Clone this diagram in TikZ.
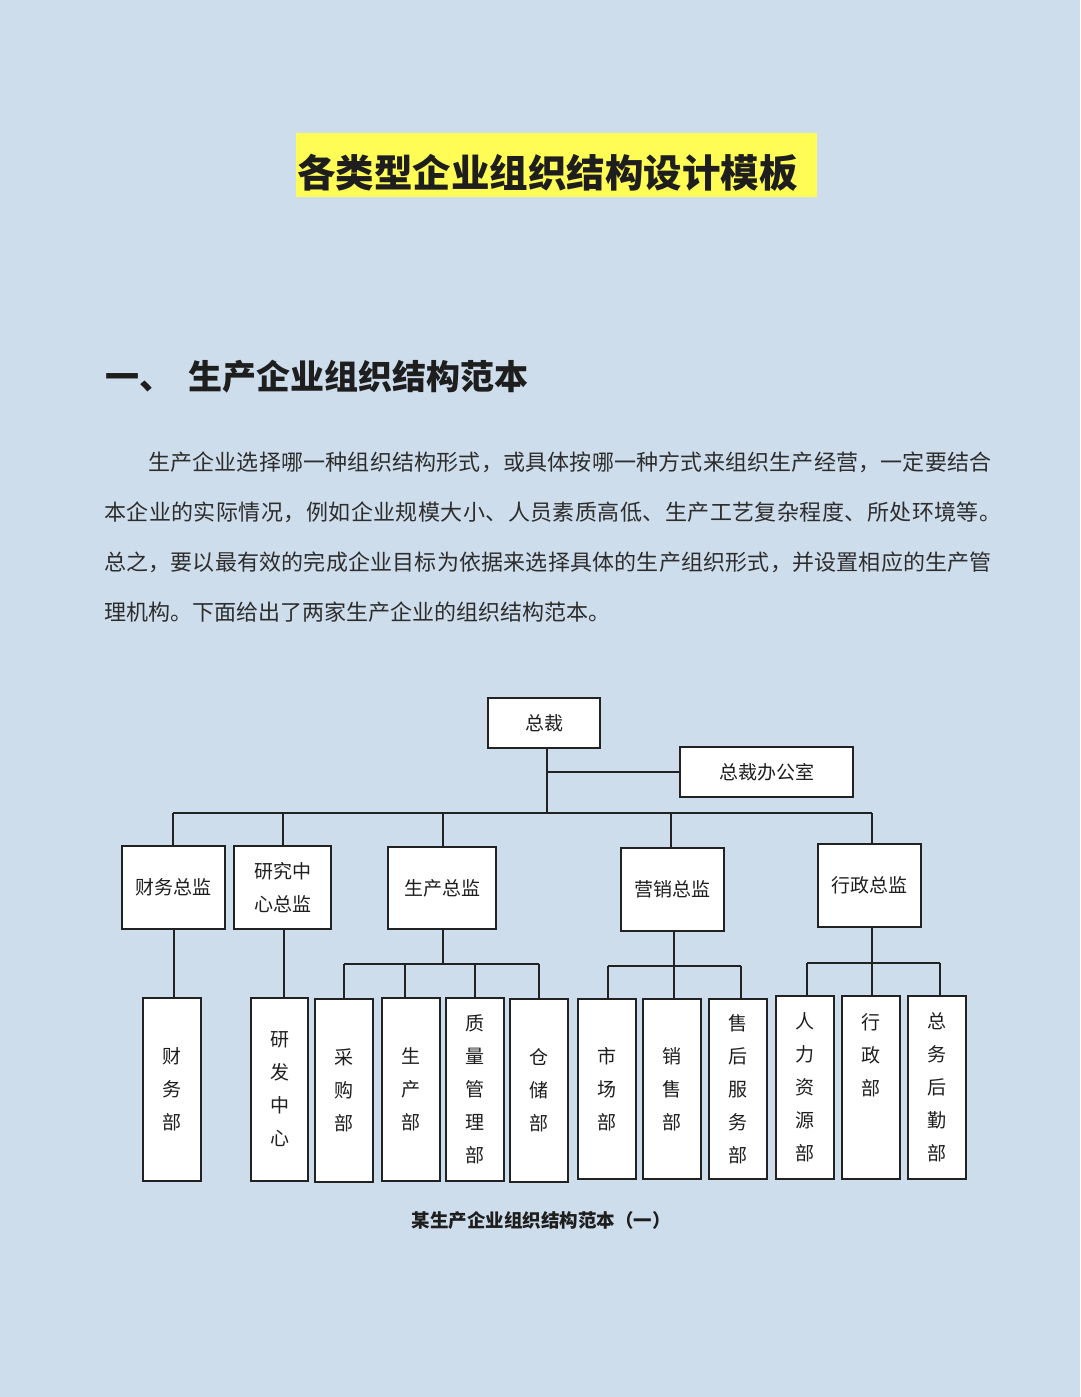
\documentclass[tikz,border=0pt]{standalone}
\usepackage{fontspec}
\setmainfont{Noto Sans CJK SC}
\definecolor{bgc}{RGB}{206,221,235}
\definecolor{titlebg}{RGB}{255,253,85}
\definecolor{linec}{RGB}{34,34,34}
\definecolor{textc}{RGB}{30,30,30}
\definecolor{parac}{RGB}{45,45,45}
\begin{document}
\begin{tikzpicture}[x=1pt,y=-1pt,
  chart/.style={draw=linec, line width=1.8pt, fill=white, inner sep=0pt, text=textc,
    font=\fontsize{19}{33}\selectfont, align=center},
  topbox/.style={chart, minimum height=50pt},
  midbox/.style={chart, minimum height=83pt},
  deptbox/.style={chart, minimum width=58pt, minimum height=183pt},
  conn/.style={draw=linec, line width=1.8pt},
  para/.style={anchor=west, inner sep=0pt, text=parac, font=\fontsize{22}{22}\selectfont}
]
\fill[bgc] (0,0) rectangle (1080,1397);
\useasboundingbox (0,0) rectangle (1080,1397);

% title
\fill[titlebg] (296,133) rectangle (817,197);
\node[anchor=west, inner sep=0pt, text=textc, font=\fontsize{38.5}{38.5}\selectfont\bfseries] (title) at (297,173) {各类型企业组织结构设计模板};

% heading
\node[anchor=west, inner sep=0pt, text=textc, font=\fontsize{34}{34}\selectfont\bfseries] (head) at (105,377) {一、\hspace{15pt}生产企业组织结构范本};

% paragraph
\node[para] (p1) at (148,462) {\addfontfeatures{LetterSpace=0.9}生产企业选择哪一种组织结构形式，或具体按哪一种方式来组织生产经营，一定要结合};
\node[para] (p2) at (104,512) {\addfontfeatures{LetterSpace=2.0}本企业的实际情况，例如企业规模大小、人员素质高低、生产工艺复杂程度、所处环境等。};
\node[para] (p3) at (104,562) {\addfontfeatures{LetterSpace=0.9}总之，要以最有效的完成企业目标为依据来选择具体的生产组织形式，并设置相应的生产管};
\node[para] (p4) at (104,612) {理机构。下面给出了两家生产企业的组织结构范本。};

% chart boxes
\node[topbox, minimum width=112pt] (pres) at (544,723) {总裁};
\node[topbox, minimum width=173pt] (office) at (766.5,772) {总裁办公室};

\node[midbox, minimum width=103pt] (cfo) at (173.5,887.5) {财务总监};
\node[midbox, minimum width=97pt] (rnd) at (282.5,887.5) {研究中\\心总监};
\node[midbox, minimum width=108pt, minimum height=82pt] (prod) at (442,888) {生产总监};
\node[midbox, minimum width=103pt] (mkt) at (672.5,889.5) {营销总监};
\node[midbox, minimum width=103pt] (adm) at (869.5,885.5) {行政总监};

\node[deptbox] (d1) at (172,1089.5) {财\\务\\部};
\node[deptbox, minimum width=57pt] (d2) at (279.5,1089.5) {研\\发\\中\\心};
\node[deptbox] (d3) at (344,1090.5) {采\\购\\部};
\node[deptbox] (d4) at (411,1089.5) {生\\产\\部};
\node[deptbox] (d5) at (475,1089.5) {质\\量\\管\\理\\部};
\node[deptbox] (d6) at (539,1090.5) {仓\\储\\部};
\node[deptbox, minimum height=180pt] (d7) at (607,1089) {市\\场\\部};
\node[deptbox, minimum height=180pt] (d8) at (672,1089) {销\\售\\部};
\node[deptbox, minimum height=180pt] (d9) at (738,1089) {售\\后\\服\\务\\部};
\node[deptbox] (d10) at (805,1087.5) {人\\力\\资\\源\\部};
\node[deptbox] (d11) at (871,1087.5) {行\\政\\部\\\mbox{}\\\mbox{}};
\node[deptbox] (d12) at (937,1087.5) {总\\务\\后\\勤\\部};

% connectors top level
\coordinate (trunk) at (547,813);
\coordinate (busL) at (173,813);
\coordinate (busR) at (872,813);
\draw[conn] (trunk |- pres.south) -- (trunk);
\draw[conn] (trunk |- office.west) -- (office.west);
\draw[conn] (busL) -- (busR);
\draw[conn] (busL) -- (busL |- cfo.north);
\draw[conn] (283,813) -- (283,0 |- rnd.north);
\draw[conn] (443,813) -- (443,0 |- prod.north);
\draw[conn] (671,813) -- (671,0 |- mkt.north);
\draw[conn] (busR) -- (busR |- adm.north);

% finance, research
\draw[conn] (174,0 |- cfo.south) -- (174,0 |- d1.north);
\draw[conn] (284,0 |- rnd.south) -- (284,0 |- d2.north);

% production
\coordinate (pbus) at (443,964);
\draw[conn] (pbus |- prod.south) -- (pbus);
\draw[conn] (d3.north |- pbus) -- (d6.north |- pbus);
\draw[conn] (d3.north |- pbus) -- (d3.north);
\draw[conn] ([xshift=-6pt]d4.north |- pbus) -- ([xshift=-6pt]d4.north);
\draw[conn] (d5.north |- pbus) -- (d5.north);
\draw[conn] (d6.north |- pbus) -- (d6.north);

% marketing
\coordinate (mbus) at (674,966);
\draw[conn] (mbus |- mkt.south) -- (mbus);
\draw[conn] ([xshift=1pt]d7.north |- mbus) -- ([xshift=3pt]d9.north |- mbus);
\draw[conn] ([xshift=1pt]d7.north |- mbus) -- ([xshift=1pt]d7.north);
\draw[conn] (mbus) -- (mbus |- d8.north);
\draw[conn] ([xshift=3pt]d9.north |- mbus) -- ([xshift=3pt]d9.north);

% administration
\coordinate (abus) at (872,963);
\draw[conn] (abus |- adm.south) -- (abus);
\draw[conn] ([xshift=2pt]d10.north |- abus) -- ([xshift=3pt]d12.north |- abus);
\draw[conn] ([xshift=2pt]d10.north |- abus) -- ([xshift=2pt]d10.north);
\draw[conn] (abus) -- (abus |- d11.north);
\draw[conn] ([xshift=3pt]d12.north |- abus) -- ([xshift=3pt]d12.north);

% caption
\node[inner sep=0pt, text=textc, font=\fontsize{18.5}{18.5}\selectfont\bfseries] (cap) at (541,1221) {某生产企业组织结构范本（一）};
\end{tikzpicture}
\end{document}
